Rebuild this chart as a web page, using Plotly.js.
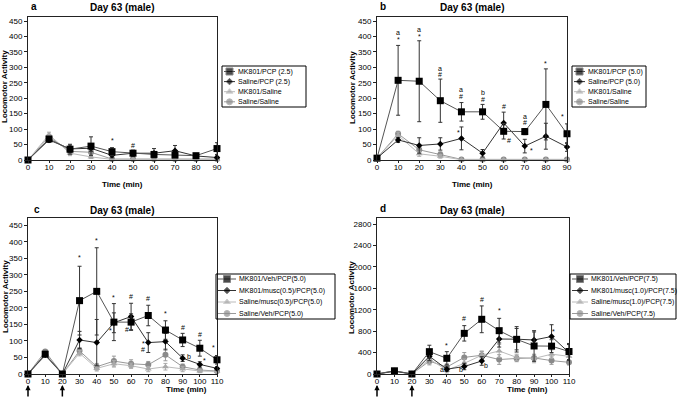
<!DOCTYPE html>
<html>
<head>
<meta charset="utf-8">
<script src="https://cdn.plot.ly/plotly-3.0.1.min.js"></script>
<style>
  body { margin: 0; background: #fff; }
  #graph { width: 685px; height: 400px; }
</style>
</head>
<body>
<div id="graph"></div>
<script>
// time points (min)
var timeAB = [0, 10, 20, 30, 40, 50, 60, 70, 80, 90];
var timeCD = [0, 10, 20, 30, 40, 50, 60, 70, 80, 90, 100, 110];

// panel a
var namesA = ["MK801/PCP (2.5)", "Saline/PCP (2.5)", "MK801/Saline", "Saline/Saline"];
var aMkPcp   = [0, 68, 35, 45, 27, 22, 18, 16, 14, 37];
var aMkPcpE  = [0, 8, 16, 30, 13, 10, 8, 8, 5, 19];
var aSalPcp  = [0, 65, 36, 38, 15, 22, 22, 30, 13, 8];
var aSalPcpE = [0, 8, 12, 10, 8, 8, 15, 17, 5, 8];
var aMkSal   = [0, 82, 22, 10, 2, 2, 2, 2, 2, 2];
var aMkSalE  = [0, 8, 8, 5, 1, 1, 1, 1, 1, 1];
var aSalSal  = [0, 75, 28, 25, 3, 3, 3, 3, 3, 3];
var aSalSalE = [0, 8, 10, 12, 1, 1, 1, 1, 1, 1];
var marksA = [[40, 62, "*"], [50, 46, "#"]];

// panel b
var namesB = ["MK801/PCP (5.0)", "Saline/PCP (5.0)", "MK801/Saline", "Saline/Saline"];
var bMkPcp   = [6, 258, 255, 192, 156, 156, 93, 92, 180, 85];
var bMkPcpE  = [0, 113, 131, 70, 30, 24, 25, 10, 115, 32];
var bSalPcp  = [6, 65, 47, 52, 70, 22, 120, 45, 77, 42];
var bSalPcpE = [0, 8, 25, 20, 37, 12, 35, 22, 42, 14];
var bMkSal   = [6, 80, 20, 12, 1, 1, 1, 1, 1, 1];
var bMkSalE  = [0, 10, 8, 6, 1, 1, 1, 1, 1, 1];
var bSalSal  = [6, 85, 33, 18, 2, 2, 2, 2, 2, 2];
var bSalSalE = [0, 8, 10, 8, 1, 1, 1, 1, 1, 1];
var marksB = [[10, 412, "a"], [10, 389, "*"], [20, 423, "a"], [20, 399, "*"],
  [30, 297, "a"], [30, 277, "#"], [40, 228, "a"], [40, 207, "#"], [38.8, 88, "*"],
  [50, 220, "b"], [50, 197, "#"], [60, 173, "#"], [62.5, 63, "#"],
  [70, 142, "a"], [70, 120, "#"], [73, 31, "*"], [80, 313, "*"], [88, 141, "*"]];

// panel c
var namesC = ["MK801/Veh/PCP(5.0)", "MK801/musc(0.5)/PCP(5.0)", "Saline/musc(0.5)/PCP(5.0)", "Saline/Veh/PCP(5.0)"];
var cMkVeh    = [0, 60, 0, 222, 250, 157, 157, 177, 133, 103, 78, 43];
var cMkVehE   = [0, 5, 0, 104, 132, 56, 25, 31, 28, 20, 24, 13];
var cMkMusc   = [0, 58, 0, 103, 95, 155, 174, 95, 98, 48, 29, 17];
var cMkMuscE  = [0, 5, 0, 26, 70, 30, 40, 30, 25, 10, 8, 5];
var cSalMusc  = [0, 55, 0, 63, 17, 31, 25, 15, 22, 15, 9, 8];
var cSalMuscE = [0, 5, 0, 8, 8, 10, 8, 8, 10, 8, 5, 4];
var cSalVeh   = [0, 68, 0, 70, 22, 39, 31, 28, 58, 22, 12, 9];
var cSalVehE  = [0, 5, 0, 10, 10, 15, 12, 10, 18, 8, 5, 4];
var marksC = [[30, 352, "*"], [40, 404, "*"], [50, 232, "*"], [48.3, 133, "*"],
  [60, 233, "#"], [57.4, 134, "#"], [70, 228, "#"], [67, 93, "*"], [67, 73, "#"],
  [80, 184, "*"], [90, 141, "#"], [93.7, 52, "b"], [100, 121, "#"], [103, 40, "*"], [108, 80, "*"]];

// panel d
var namesD = ["MK801/Veh/PCP(7.5)", "MK801/musc(1.0)/PCP(7.5)", "Saline/musc(1.0)/PCP(7.5)", "Saline/Veh/PCP(7.5)"];
var dMkVeh    = [0, 60, 0, 417, 293, 759, 1021, 809, 647, 523, 520, 420];
var dMkVehE   = [0, 20, 0, 120, 124, 144, 250, 230, 237, 286, 120, 150];
var dMkMusc   = [0, 50, 0, 330, 90, 140, 243, 653, 650, 635, 700, 400];
var dMkMuscE  = [0, 20, 0, 80, 40, 60, 80, 150, 200, 150, 220, 150];
var dSalMusc  = [0, 60, 0, 280, 70, 200, 350, 430, 310, 290, 370, 330];
var dSalMuscE = [0, 20, 0, 90, 50, 80, 80, 120, 60, 80, 80, 80];
var dSalVeh   = [0, 60, 0, 240, 130, 310, 350, 270, 290, 300, 250, 218];
var dSalVehE  = [0, 20, 0, 70, 60, 90, 70, 90, 60, 60, 70, 50];
var marksD = [[40, 541, "*"], [50, 1033, "#"], [60, 1394, "#"], [70, 1182, "*"],
  [101.4, 797, "*"], [37, 87, "a"], [48, 87, "b"], [62.5, 168, "b"]];

var FONT = "Liberation Sans, Arial, sans-serif";

// one style per series slot: black squares, black diamonds, grey triangles, grey circles
var styles = [
  {symbol: "square", size: 7, color: "#000", line: "#555", err: "#333"},
  {symbol: "diamond", size: 5, color: "#000", line: "#333", err: "#333"},
  {symbol: "triangle-up", size: 6, color: "#a8a8a8", line: "#bbb", err: "#aaa"},
  {symbol: "circle", size: 6, color: "#8a8a8a", line: "#999", err: "#999"}
];

var data = [];
var annotations = [];
var shapes = [];

function addPanel(xs, ys, errs, marks, n) {
  var xa = "x" + (n > 1 ? n : ""), ya = "y" + (n > 1 ? n : "");
  [3, 2, 1, 0].forEach(function (i) {
    var s = styles[i];
    data.push({
      x: xs, y: ys[i], xaxis: xa, yaxis: ya,
      type: "scatter", mode: "lines+markers", cliponaxis: false, showlegend: false,
      line: {color: s.line, width: 1},
      marker: {symbol: s.symbol, size: s.size, color: s.color},
      error_y: {type: "data", array: errs[i], visible: true, color: s.err, thickness: 1, width: 2}
    });
  });
  marks.forEach(function (m) {
    annotations.push({xref: xa, yref: ya, x: m[0], y: m[1], text: m[2], showarrow: false,
      opacity: 0.99, font: {family: FONT, size: 7, color: "#000"}});
  });
}

addPanel(timeAB, [aMkPcp, aSalPcp, aMkSal, aSalSal], [aMkPcpE, aSalPcpE, aMkSalE, aSalSalE], marksA, 1);
addPanel(timeAB, [bMkPcp, bSalPcp, bMkSal, bSalSal], [bMkPcpE, bSalPcpE, bMkSalE, bSalSalE], marksB, 2);
addPanel(timeCD, [cMkVeh, cMkMusc, cSalMusc, cSalVeh], [cMkVehE, cMkMuscE, cSalMuscE, cSalVehE], marksC, 3);
addPanel(timeCD, [dMkVeh, dMkMusc, dSalMusc, dSalVeh], [dMkVehE, dMkMuscE, dSalMuscE, dSalVehE], marksD, 4);

// legends drawn by hand on a pixel overlay (x5/y5) so rows can be packed tight
function drawLegend(names, box) {
  shapes.push({type: "rect", xref: "x5", yref: "y5", x0: box.x0, x1: box.x1, y0: box.y0, y1: box.y1,
    line: {color: "#000", width: 1}});
  names.forEach(function (name, i) {
    var s = styles[i];
    var yy = box.row0 + i * box.dy;
    var mid = (box.lx0 + box.lx1) / 2;
    data.push({
      x: [box.lx0, mid, box.lx1], y: [yy, yy, yy], xaxis: "x5", yaxis: "y5",
      type: "scatter", mode: "lines+markers", cliponaxis: false, showlegend: false,
      line: {color: s.line, width: 1},
      marker: {symbol: s.symbol, size: [0, s.size, 0], color: s.color}
    });
    annotations.push({xref: "x5", yref: "y5", x: box.tx, y: yy, text: name, showarrow: false,
      xanchor: "left", yanchor: "middle", font: {family: FONT, size: 7, color: "#000"}});
  });
}

drawLegend(namesA, {x0: 222, x1: 306, y0: 66, y1: 107, lx0: 224, lx1: 235, tx: 236, row0: 71.5, dy: 10.1});
drawLegend(namesB, {x0: 572, x1: 646, y0: 66, y1: 107, lx0: 574, lx1: 585, tx: 586, row0: 71.5, dy: 10.1});
drawLegend(namesC, {x0: 216, x1: 335, y0: 274, y1: 319, lx0: 218, lx1: 236, tx: 237, row0: 279, dy: 11.5});
drawLegend(namesD, {x0: 570, x1: 676, y0: 274, y1: 319, lx0: 572, lx1: 588, tx: 589, row0: 279, dy: 11.5});

// titles and labels, in pixel coordinates of the overlay
function label(x, y, text, size, angle) {
  annotations.push({xref: "x5", yref: "y5", x: x, y: y, text: text, showarrow: false,
    textangle: angle || 0, xanchor: "center", yanchor: "middle",
    font: {family: FONT, size: size, color: "#000"}});
}
label(34, 6, "<b>a</b>", 10);
label(122, 7, "<b>Day 63 (male)</b>", 10);
label(383, 6, "<b>b</b>", 10);
label(472, 7, "<b>Day 63 (male)</b>", 10);
label(37, 209, "<b>c</b>", 10);
label(122, 210, "<b>Day 63 (male)</b>", 10);
label(383, 208, "<b>d</b>", 10);
label(472, 210, "<b>Day 63 (male)</b>", 10);
label(122, 184, "<b>Time (min)</b>", 8);
label(472, 184, "<b>Time (min)</b>", 8);
label(186, 389, "<b>Time (min)</b>", 8);
label(527, 389, "<b>Time (min)</b>", 8);
label(4, 87, "<b>Locomotor Activity</b>", 8, -90);
label(352, 88, "<b>Locomotor Activity</b>", 8, -90);
label(5, 297, "<b>Locomotor Activity</b>", 8, -90);
label(351, 298, "<b>Locomotor Activity</b>", 8, -90);

// injection arrows under panels c and d
[["x3", 0], ["x3", 20], ["x4", 0], ["x4", 20]].forEach(function (a) {
  annotations.push({xref: a[0], yref: "y5", x: a[1], y: 385, ax: 0, ay: 13, text: "",
    showarrow: true, arrowhead: 2, arrowsize: 0.7, arrowwidth: 1.5, arrowcolor: "#000"});
});

function xAxis(domain, range, anchor) {
  return {domain: domain, range: range, anchor: anchor, dtick: 10, tick0: 0,
    showline: true, mirror: true, linecolor: "#222", linewidth: 1,
    ticks: "outside", ticklen: 2, tickcolor: "#222", showgrid: false, zeroline: false,
    ticklabelstandoff: -3,
    tickfont: {family: FONT, size: 8, color: "#000"}};
}
function yAxis(domain, range, dtick, anchor, thickZero) {
  return {domain: domain, range: range, anchor: anchor, dtick: dtick, tick0: 0,
    showline: true, mirror: true, linecolor: "#222", linewidth: 1,
    ticks: "outside", ticklen: 3, tickcolor: "#222", showgrid: false,
    zeroline: !!thickZero, zerolinecolor: "#000", zerolinewidth: 2,
    tickfont: {family: FONT, size: 8, color: "#000"}};
}

var layout = {
  width: 685, height: 400,
  margin: {l: 0, r: 0, t: 0, b: 0},
  paper_bgcolor: "#fff", plot_bgcolor: "rgba(0,0,0,0)",
  showlegend: false,
  xaxis:  xAxis([28 / 685, 217 / 685], [0, 90], "y"),
  yaxis:  yAxis([0.6, 1 - 17 / 400], [0, 463], 50, "x", true),
  xaxis2: xAxis([377 / 685, 567 / 685], [0, 90], "y2"),
  yaxis2: yAxis([0.6, 1 - 17 / 400], [0, 463], 50, "x2", true),
  xaxis3: xAxis([28 / 685, 217 / 685], [0, 110], "y3"),
  yaxis3: yAxis([1 - 374 / 400, 1 - 218 / 400], [0, 472], 50, "x3", false),
  xaxis4: xAxis([377 / 685, 569 / 685], [0, 110], "y4"),
  yaxis4: yAxis([1 - 374 / 400, 1 - 218 / 400], [0, 2912], 400, "x4", false),
  xaxis5: {domain: [0, 1], range: [0, 685], anchor: "y5", visible: false},
  yaxis5: {domain: [0, 1], range: [400, 0], anchor: "x5", visible: false},
  annotations: annotations,
  shapes: shapes
};

Plotly.newPlot(document.getElementById("graph"), data, layout, {staticPlot: true});
</script>
</body>
</html>
